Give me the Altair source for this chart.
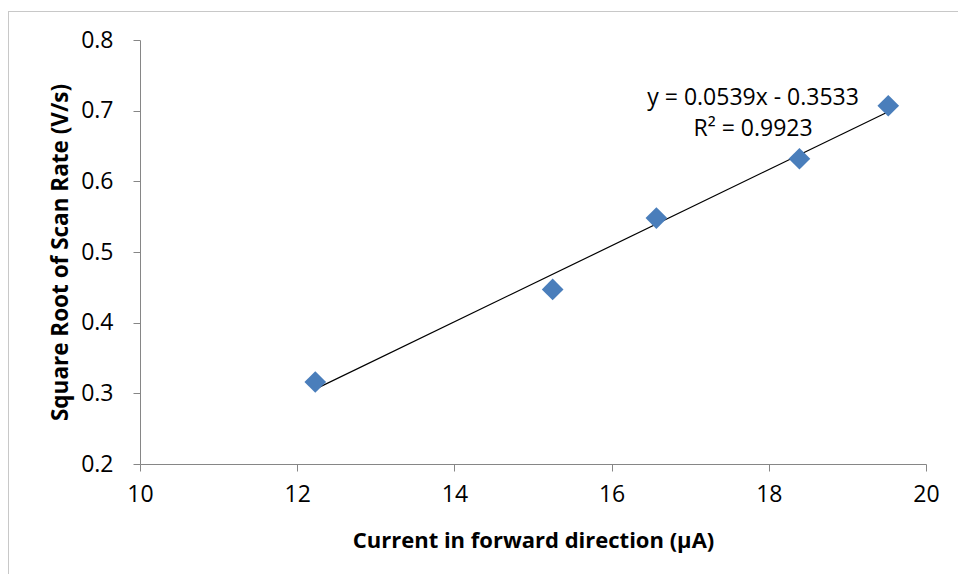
import altair as alt
import pandas as pd

# data
current_uA = [12.23, 15.25, 16.57, 18.39, 19.52]
sqrt_scan_rate = [0.316, 0.447, 0.548, 0.632, 0.707]

x_ticks = [10, 12, 14, 16, 18, 20]
y_ticks = [0.2, 0.3, 0.4, 0.5, 0.6, 0.7, 0.8]

eq_lines = ["y = 0.0539x - 0.3533", "R\u00b2 = 0.9923"]
eq_x = [17.80, 17.80]
eq_y = [0.708, 0.664]

FONT = "Open Sans"
AXIS_GRAY = "#868686"

df = pd.DataFrame({"x": current_uA, "y": sqrt_scan_rate})
eq_df = pd.DataFrame({"text": eq_lines, "x": eq_x, "y": eq_y})

xscale = alt.Scale(domain=[10, 20], nice=False, zero=False)
yscale = alt.Scale(domain=[0.2, 0.8], nice=False, zero=False)

xaxis = alt.Axis(
    values=x_ticks, grid=False, format="d", title="Current in forward direction (\u03bcA)",
    domainColor=AXIS_GRAY, tickColor=AXIS_GRAY, tickSize=7,
    labelFont=FONT, labelFontSize=23, labelColor="#000000", labelPadding=12,
    labelFlush=False, labelOverlap=False,
    titleFont=FONT, titleFontSize=22, titleFontWeight="bold", titleColor="#000000",
    titleY=83, titleBaseline="alphabetic",
)
yaxis = alt.Axis(
    values=y_ticks, grid=False, format=".1f", title="Square Root of Scan Rate (V/s)",
    domainColor=AXIS_GRAY, tickColor=AXIS_GRAY, tickSize=7,
    labelFont=FONT, labelFontSize=23, labelColor="#000000", labelPadding=20,
    labelFlush=False, labelOverlap=False,
    titleFont=FONT, titleFontSize=22.5, titleFontWeight="bold", titleColor="#000000",
    titleX=-73, titleBaseline="alphabetic",
)

base = alt.Chart(df)

points = base.mark_point(shape="diamond", filled=True, size=470, opacity=1,
                         color="#4A7EBB", strokeWidth=0).encode(
    x=alt.X("x:Q", scale=xscale, axis=xaxis),
    y=alt.Y("y:Q", scale=yscale, axis=yaxis),
)

trend = base.transform_regression("x", "y", method="linear").mark_line(
    color="#000000", strokeWidth=1.2
).encode(
    x=alt.X("x:Q", scale=xscale),
    y=alt.Y("y:Q", scale=yscale),
)

eq_text = alt.Chart(eq_df).mark_text(
    font=FONT, fontSize=23, color="#000000", align="center", baseline="alphabetic"
).encode(
    x=alt.X("x:Q", scale=xscale),
    y=alt.Y("y:Q", scale=yscale),
    text="text:N",
)

one = pd.DataFrame({"a": [0]})
border_top = alt.Chart(one).mark_rule(color="#C8C8C8", strokeWidth=1).encode(
    x=alt.value(-132), x2=alt.value(830), y=alt.value(-28.5)
)
border_left = alt.Chart(one).mark_rule(color="#C8C8C8", strokeWidth=1).encode(
    x=alt.value(-131.5), y=alt.value(-29), y2=alt.value(700)
)

chart = alt.layer(border_top, border_left, trend, points, eq_text).properties(
    width=786, height=424,
    autosize=alt.AutoSizeParams(type="none"),
    padding={"left": 132, "top": 32, "right": 32, "bottom": 110},
    background="#ffffff",
).configure_view(stroke=None)

chart.save("out.html", embed_options={"renderer": "svg", "actions": False})
